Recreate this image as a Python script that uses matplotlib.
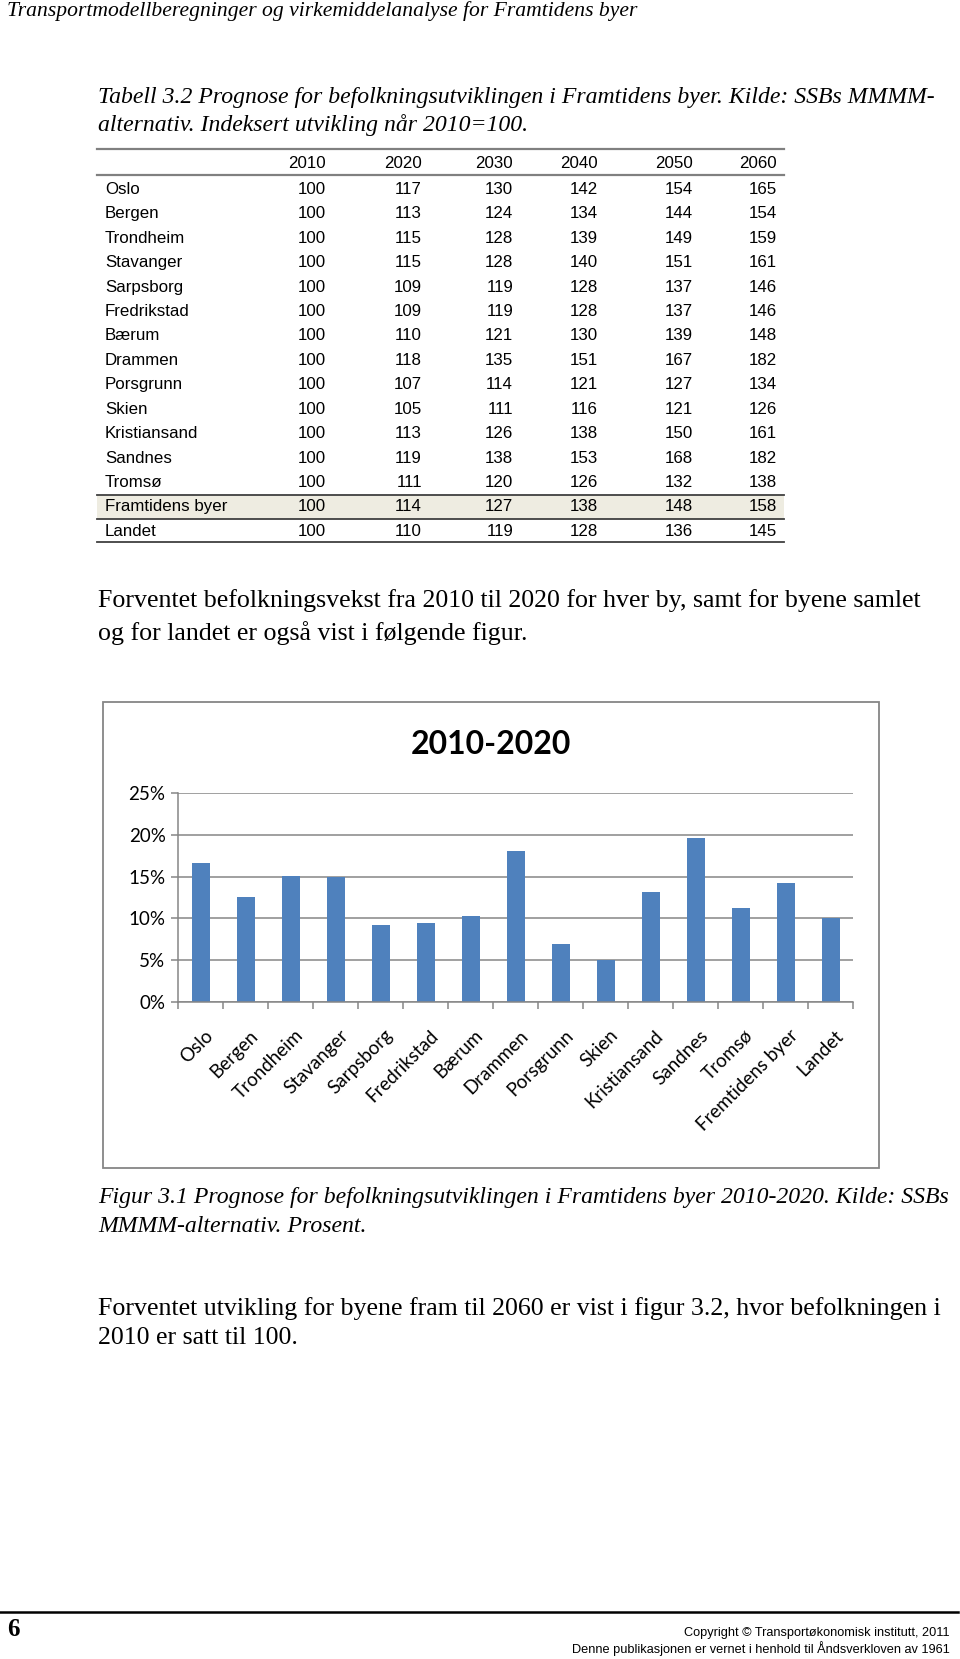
import numpy as np
import matplotlib
matplotlib.use("Agg")
import matplotlib.pyplot as plt
from matplotlib.patches import Rectangle
from matplotlib.ticker import FuncFormatter

# ─── data ────────────────────────────────────────────────────────────────────
YEARS = ["2010", "2020", "2030", "2040", "2050", "2060"]
CITIES = ["Oslo", "Bergen", "Trondheim", "Stavanger", "Sarpsborg", "Fredrikstad",
          "Bærum", "Drammen", "Porsgrunn", "Skien", "Kristiansand", "Sandnes",
          "Tromsø", "Framtidens byer", "Landet"]
IDX_2010 = [100] * 15
IDX_2020 = [117, 113, 115, 115, 109, 109, 110, 118, 107, 105, 113, 119, 111, 114, 110]
IDX_2030 = [130, 124, 128, 128, 119, 119, 121, 135, 114, 111, 126, 138, 120, 127, 119]
IDX_2040 = [142, 134, 139, 140, 128, 128, 130, 151, 121, 116, 138, 153, 126, 138, 128]
IDX_2050 = [154, 144, 149, 151, 137, 137, 139, 167, 127, 121, 150, 168, 132, 148, 136]
IDX_2060 = [165, 154, 159, 161, 146, 146, 148, 182, 134, 126, 161, 182, 138, 158, 145]

BAR_LABELS = ["Oslo", "Bergen", "Trondheim", "Stavanger", "Sarpsborg", "Fredrikstad",
              "Bærum", "Drammen", "Porsgrunn", "Skien", "Kristiansand", "Sandnes",
              "Tromsø", "Fremtidens byer", "Landet"]
GROWTH = [16.6, 12.6, 15.1, 15.0, 9.2, 9.4, 10.3, 18.0, 7.0, 5.0, 13.2, 19.6, 11.3, 14.2, 10.0]
Y_TICKS = [0, 5, 10, 15, 20, 25]

# ─── page setup (pixel coordinates, y downwards) ─────────────────────────────
W, H = 960, 1659
fig = plt.figure(figsize=(W / 100, H / 100), dpi=100)
page = fig.add_axes([0, 0, 1, 1])
page.set_xlim(0, W)
page.set_ylim(H, 0)
page.axis("off")

SERIF = "Liberation Serif"
SANS = "Liberation Sans"
CHART_FONT = "Lato"
GRAY = "#868686"

# header
page.text(7, 11, "Transportmodellberegninger og virkemiddelanalyse for Framtidens byer",
          family=SERIF, style="italic", fontsize=15.6, va="center", ha="left")

# table caption
page.text(98, 97, "Tabell 3.2 Prognose for befolkningsutviklingen i Framtidens byer. Kilde: SSBs MMMM-",
          family=SERIF, style="italic", fontsize=17.1, va="center", ha="left")
page.text(98, 125, "alternativ. Indeksert utvikling når 2010=100.",
          family=SERIF, style="italic", fontsize=17.1, va="center", ha="left")

# ─── table ───────────────────────────────────────────────────────────────────
T_LEFT, T_RIGHT = 97, 784
col_right = [326, 422, 513, 598, 693, 777]
row_y0, row_dy = 189.5, 24.41
columns = [IDX_2010, IDX_2020, IDX_2030, IDX_2040, IDX_2050, IDX_2060]
TFS = 12.2

# shaded "Framtidens byer" row
shade_top = row_y0 + 12.5 * row_dy
page.add_patch(Rectangle((T_LEFT, shade_top), T_RIGHT - T_LEFT, row_dy,
                         facecolor="#EEECE1", edgecolor="none"))

page.plot([T_LEFT, T_RIGHT], [149, 149], color="#808080", lw=1.6)
page.plot([T_LEFT, T_RIGHT], [175, 175], color="#808080", lw=1.6)
page.plot([T_LEFT, T_RIGHT], [shade_top, shade_top], color="#404040", lw=1.3)
page.plot([T_LEFT, T_RIGHT], [shade_top + row_dy] * 2, color="#404040", lw=1.3)
page.plot([T_LEFT, T_RIGHT], [shade_top + 2 * row_dy - 1] * 2, color="#404040", lw=1.3)

for yr, xr in zip(YEARS, col_right):
    page.text(xr, 164, yr, family=SANS, fontsize=TFS, ha="right", va="center")
for i, city in enumerate(CITIES):
    y = row_y0 + i * row_dy
    page.text(105, y, city, family=SANS, fontsize=TFS, ha="left", va="center")
    for col, xr in zip(columns, col_right):
        page.text(xr, y, str(col[i]), family=SANS, fontsize=TFS, ha="right", va="center")

# paragraph 1
page.text(98, 601, "Forventet befolkningsvekst fra 2010 til 2020 for hver by, samt for byene samlet",
          family=SERIF, fontsize=18.6, va="center", ha="left")
page.text(98, 633, "og for landet er også vist i følgende figur.",
          family=SERIF, fontsize=18.6, va="center", ha="left")

# ─── chart ───────────────────────────────────────────────────────────────────
page.add_patch(Rectangle((103, 702), 775.5, 465.5, facecolor="white",
                         edgecolor=GRAY, lw=1.3))
page.text(490.5, 745, "2010-2020", family=CHART_FONT, fontweight="bold",
          fontsize=23, ha="center", va="center")

ax_l, ax_r, ax_t, ax_b = 178, 853, 792.7, 1002.3
ax = fig.add_axes([ax_l / W, 1 - ax_b / H, (ax_r - ax_l) / W, (ax_b - ax_t) / H])
ax.set_facecolor("none")
x = np.arange(len(GROWTH))
ax.bar(x, GROWTH, width=0.4, color="#4F81BD", zorder=3)
ax.set_xlim(-0.5, len(GROWTH) - 0.5)
ax.set_ylim(0, 25)
ax.set_yticks(Y_TICKS)
ax.yaxis.set_major_formatter(FuncFormatter(lambda v, _: f"{v:.0f}%"))
ax.grid(axis="y", color=GRAY, lw=1.1, zorder=0)
ax.set_axisbelow(True)
for s in ["top", "right"]:
    ax.spines[s].set_visible(False)
for s in ["left", "bottom"]:
    ax.spines[s].set_color(GRAY)
    ax.spines[s].set_linewidth(1.1)
    ax.spines[s].set_zorder(4)
ax.tick_params(axis="y", length=5, width=1.1, color=GRAY, pad=4, labelsize=13.5)
for lab in ax.get_yticklabels():
    lab.set_family(CHART_FONT)

ax.set_xticks(np.arange(-0.5, len(GROWTH), 1.0))
ax.set_xticklabels([])
ax.tick_params(axis="x", length=5, width=1.1, color=GRAY)
for i, name in enumerate(BAR_LABELS):
    ax.annotate(name, xy=(i, 0), xycoords="data", xytext=(7, -22),
                textcoords="offset points", rotation=45, rotation_mode="anchor",
                ha="right", va="center", family=CHART_FONT, fontsize=13.5)

# caption
page.text(98, 1197, "Figur 3.1 Prognose for befolkningsutviklingen i Framtidens byer 2010-2020. Kilde: SSBs",
          family=SERIF, style="italic", fontsize=17.1, va="center", ha="left")
page.text(98, 1226, "MMMM-alternativ. Prosent.",
          family=SERIF, style="italic", fontsize=17.1, va="center", ha="left")

# paragraph 2
page.text(98, 1309, "Forventet utvikling for byene fram til 2060 er vist i figur 3.2, hvor befolkningen i",
          family=SERIF, fontsize=18.6, va="center", ha="left")
page.text(98, 1338, "2010 er satt til 100.",
          family=SERIF, fontsize=18.6, va="center", ha="left")

# ─── footer ──────────────────────────────────────────────────────────────────
page.plot([0, 958], [1612, 1612], color="black", lw=1.8)
page.text(7, 1630, "6", family=SERIF, fontweight="bold", fontsize=18,
          ha="left", va="center")
page.text(950, 1633, "Copyright © Transportøkonomisk institutt, 2011",
          family=SANS, fontsize=9.2, ha="right", va="center")
page.text(950, 1649, "Denne publikasjonen er vernet i henhold til Åndsverkloven av 1961",
          family=SANS, fontsize=9.2, ha="right", va="center")

fig.savefig("out.png", dpi=100)
